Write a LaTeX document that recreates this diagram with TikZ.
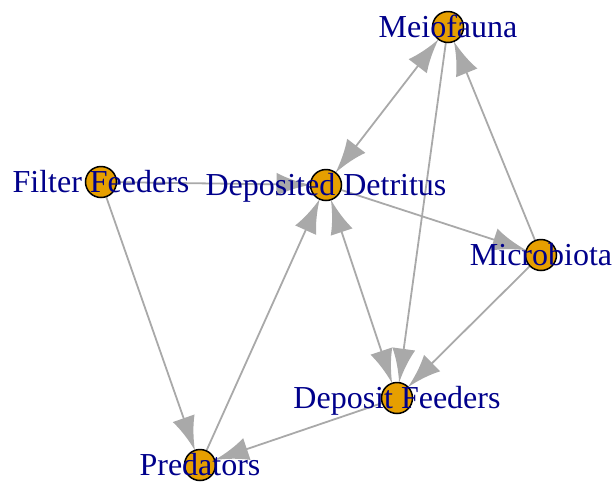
\documentclass[tikz,border=0pt]{standalone}
\usepackage{fontspec}
\setmainfont{Liberation Serif}
\usetikzlibrary{arrows.meta}
\definecolor{vfill}{HTML}{E69F00}
\definecolor{vlabel}{HTML}{00008B}
\definecolor{egray}{HTML}{A9A9A9}
\pgfdeclarelayer{edges}
\pgfsetlayers{edges,main}

% concave-sided arrow head
\pgfdeclarearrow{
  name = IgHead,
  parameters = {\the\pgfarrowlength,\the\pgfarrowwidth},
  setup code = {
    \pgfarrowssettipend{0pt}
    \pgfarrowssetlineend{-0.6\pgfarrowlength}
    \pgfarrowssetvisualbackend{-\pgfarrowlength}
    \pgfarrowssetbackend{-\pgfarrowlength}
    \pgfarrowssavethe\pgfarrowlength
    \pgfarrowssavethe\pgfarrowwidth
  },
  drawing code = {
    \pgfpathmoveto{\pgfqpoint{0pt}{0pt}}
    \pgfpathcurveto{\pgfqpoint{-0.35\pgfarrowlength}{0.1\pgfarrowwidth}}{\pgfqpoint{-0.72\pgfarrowlength}{0.28\pgfarrowwidth}}{\pgfqpoint{-\pgfarrowlength}{0.5\pgfarrowwidth}}
    \pgfpathlineto{\pgfqpoint{-\pgfarrowlength}{-0.5\pgfarrowwidth}}
    \pgfpathcurveto{\pgfqpoint{-0.72\pgfarrowlength}{-0.28\pgfarrowwidth}}{\pgfqpoint{-0.35\pgfarrowlength}{-0.1\pgfarrowwidth}}{\pgfqpoint{0pt}{0pt}}
    \pgfpathclose
    \pgfusepathqfill
  },
  defaults = {length = 34pt, width = 23pt}
}

\tikzset{
  vertex/.style={circle, draw=black, line width=1.5pt, fill=vfill,
    minimum size=31pt, inner sep=0pt, outer sep=0pt},
  vname/.style={text=vlabel, inner sep=0pt,
    font=\fontsize{32}{38}\selectfont, text height=21pt, text depth=0pt},
  link/.style={draw=egray, line width=1.8pt, -{IgHead}},
  bilink/.style={draw=egray, line width=1.8pt, {IgHead}-{IgHead}},
}

\begin{document}
\begin{tikzpicture}[x=1pt, y=-1pt]
  \useasboundingbox (0,0) rectangle (613,483);

  % vertices
  \node[vertex] (meio)  at (448,27)  {};
  \node[vertex] (ff)    at (101,182) {};
  \node[vertex] (dd)    at (326,185) {};
  \node[vertex] (micro) at (541,255) {};
  \node[vertex] (df)    at (397,398) {};
  \node[vertex] (pred)  at (200,465) {};

  % edges, drawn beneath the vertices
  \begin{pgfonlayer}{edges}
    \draw[link]   (ff) -- (dd);
    \draw[link]   (ff) -- (pred);
    \draw[link]   (dd) -- (micro);
    \draw[bilink] (dd) -- (meio);
    \draw[bilink] (dd) -- (df);
    \draw[link]   (meio) -- (df);
    \draw[link]   (micro) -- (meio);
    \draw[link]   (micro) -- (df);
    \draw[link]   (df) -- (pred);
    \draw[link]   (pred) -- (dd);
  \end{pgfonlayer}

  % labels on top
  \node[vname] (meio-l)  at (meio)  {Meiofauna};
  \node[vname] (ff-l)    at (ff)    {Filter Feeders};
  \node[vname] (dd-l)    at (dd)    {Deposited Detritus};
  \node[vname] (micro-l) at (micro) {Microbiota};
  \node[vname] (df-l)    at (df)    {Deposit Feeders};
  \node[vname] (pred-l)  at (pred)  {Predators};
\end{tikzpicture}
\end{document}
